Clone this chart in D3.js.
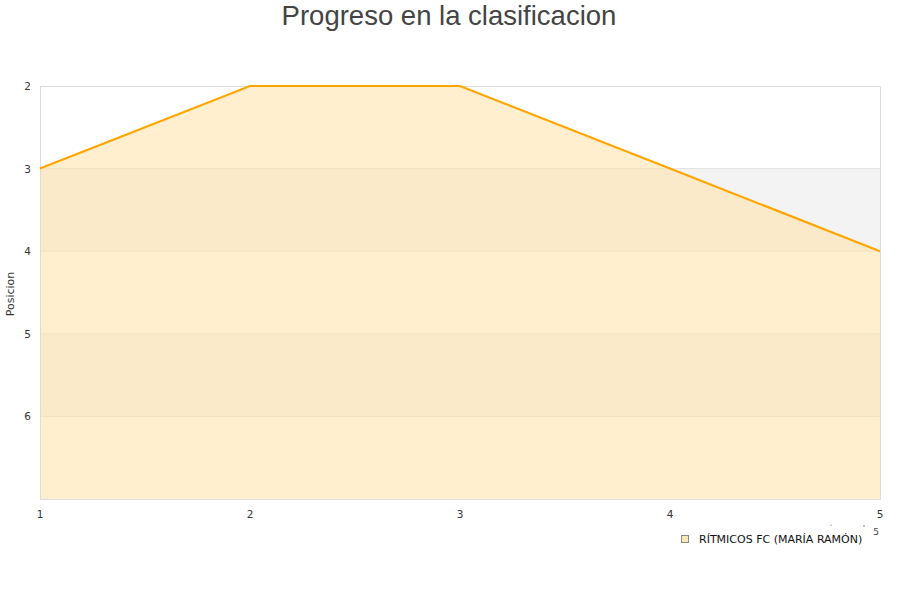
<!DOCTYPE html>
<html><head><meta charset="utf-8">
<script src="https://cdn.jsdelivr.net/npm/d3@7"></script>
<style>body{margin:0;background:#fff}svg{display:block}</style>
</head><body>
<svg id="c" width="900" height="600"></svg>
<script>
const rounds = [1, 2, 3, 4, 5];
const positions = [3, 2, 2, 3, 4];
const yTicks = [2, 3, 4, 5, 6];
const seriesName = "RÍTMICOS FC (MARÍA RAMÓN)";
const title = "Progreso en la clasificacion";
const yTitle = "Posicion";

const svg = d3.select("#c");
const font = "'Liberation Sans', Arial, sans-serif";
const dv = "'DejaVu Sans', sans-serif";
const m = {l: 40, r: 880, t: 86, b: 499};
const x = d3.scaleLinear().domain([1, 5]).range([m.l, m.r]);
const y = d3.scaleLinear().domain([2, 7]).range([m.t, m.b]);

const bands = d3.range(2, 7);
svg.selectAll("rect.band").data(bands).enter().append("rect")
  .attr("x", m.l).attr("width", m.r - m.l)
  .attr("y", d => y(d)).attr("height", d => y(d + 1) - y(d))
  .attr("fill", (d, i) => i % 2 ? "#f3f3f3" : "#ffffff");
svg.selectAll("line.grid").data(d3.range(3, 7)).enter().append("line")
  .attr("x1", m.l).attr("x2", m.r).attr("y1", d => y(d)).attr("y2", d => y(d))
  .attr("stroke", "#e2e2e2");
const pts = rounds.map((r, i) => [r, positions[i]]);
svg.append("path").datum(pts)
  .attr("d", d3.area().x(d => x(d[0])).y0(y(7)).y1(d => y(d[1])))
  .attr("fill", "rgba(255,225,165,0.55)");
svg.append("rect").attr("x", m.l + 0.5).attr("y", m.t + 0.5)
  .attr("width", m.r - m.l).attr("height", m.b - m.t)
  .attr("fill", "none").attr("stroke", "#dcdcdc");
svg.append("path").datum(pts)
  .attr("d", d3.line().x(d => x(d[0])).y(d => y(d[1])))
  .attr("fill", "none").attr("stroke", "#ffa500").attr("stroke-width", 2.2);

svg.selectAll("text.yt").data(yTicks).enter().append("text")
  .attr("x", 31).attr("y", d => y(d) + 4).attr("text-anchor", "end")
  .attr("font-family", dv).attr("font-size", 10.5).attr("fill", "#333")
  .text(d => d);
svg.selectAll("text.xt").data(rounds).enter().append("text")
  .attr("x", d => x(d)).attr("y", 518).attr("text-anchor", "middle")
  .attr("font-family", dv).attr("font-size", 10.5).attr("fill", "#333")
  .text(d => d);
svg.append("text").attr("x", 449).attr("y", 25).attr("text-anchor", "middle")
  .attr("font-family", font).attr("font-size", 27.5).attr("fill", "#444").text(title);
svg.append("text").attr("transform", "translate(14,294) rotate(-90)")
  .attr("text-anchor", "middle").attr("font-family", dv)
  .attr("font-size", 11).attr("fill", "#333").text(yTitle);
svg.append("text").attr("x", 876).attr("y", 535).attr("text-anchor", "middle")
  .attr("font-family", dv).attr("font-size", 9).attr("fill", "#444").text("5");
svg.append("circle").attr("cx", 831).attr("cy", 525).attr("r", 0.6).attr("fill", "#555");
svg.append("circle").attr("cx", 864).attr("cy", 526).attr("r", 0.7).attr("fill", "#555");
svg.append("rect").attr("x", 681.5).attr("y", 535.5).attr("width", 7).attr("height", 7)
  .attr("fill", "rgba(255,225,165,0.8)").attr("stroke", "#888");
svg.append("text").attr("x", 699).attr("y", 543)
  .attr("font-family", dv).attr("font-size", 11).attr("fill", "#111")
  .text(seriesName);
</script>
</body></html>
